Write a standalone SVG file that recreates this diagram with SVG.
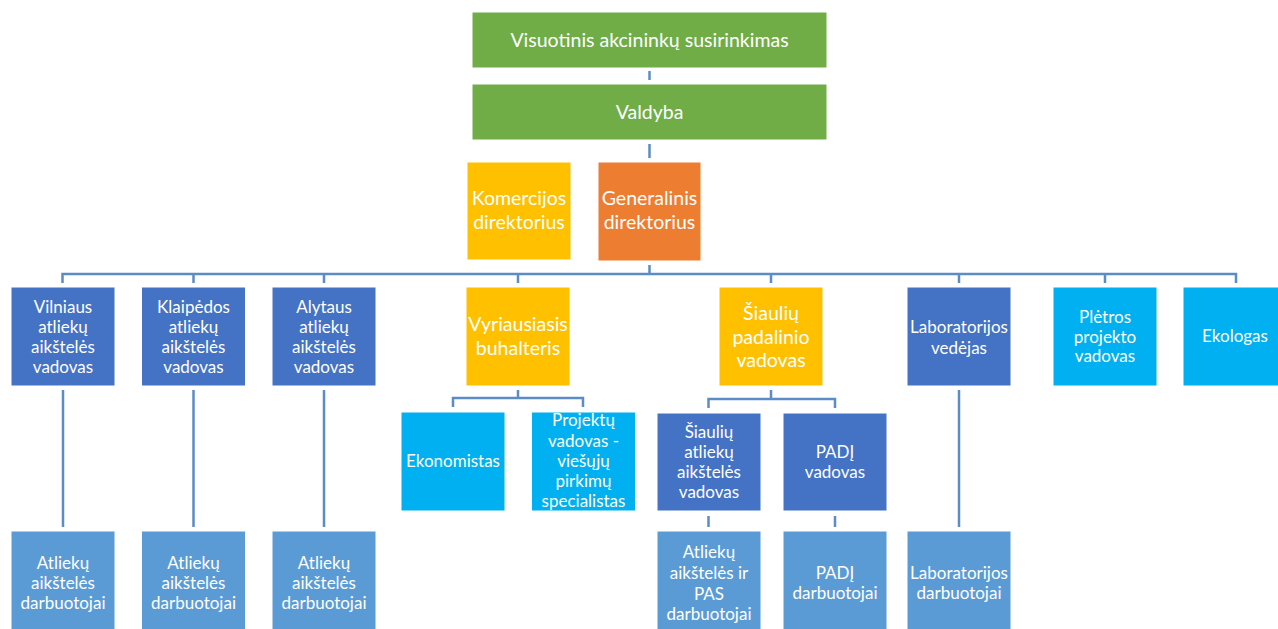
<svg xmlns="http://www.w3.org/2000/svg" width="1278" height="629" viewBox="0 0 1278 629">
<style>
.g{fill:#70AD47}.y{fill:#FFC000}.o{fill:#ED7D31}.b{fill:#4472C4}.c{fill:#00B0F0}.l{fill:#5B9BD5}
rect{stroke:#ffffff;stroke-width:1}
text{fill:#ffffff;font-family:Lato,"Liberation Sans",sans-serif;text-anchor:middle}
.t21{font-size:19.5px}.t18{font-size:17px}
#connectors path{fill:none;stroke:#5B8CC6;stroke-width:2.5}
</style>
<rect width="1278" height="629" fill="#ffffff" style="stroke:none"/>
<g id="connectors">
<path d="M649.5 71V80M649.5 144V158M649.5 265V274"/>
<path d="M62.5 283V274H1236V283M193.5 274V283M324 274V283M518 274V283M771 274V283M959 274V283M1105 274V283"/>
<path d="M63 390V527M193.5 390V527M324 390V527M959 390V527"/>
<path d="M518 390V398M453 407V398H583V407"/>
<path d="M771 390V399M708.5 408V399H835V408"/>
<path d="M708.5 516V527M835 516V527"/>
</g>
<g id="n-visuotinis"><rect class="g" x="472" y="12" width="355" height="56"/><text class="t21" x="649.5" y="46.5">Visuotinis akcininkų susirinkimas</text></g>
<g id="n-valdyba"><rect class="g" x="472" y="84" width="355" height="56"/><text class="t21" x="649.5" y="119">Valdyba</text></g>
<g id="n-komercijos"><rect class="y" x="467" y="162" width="104" height="98"/><text class="t21" x="519" y="205">Komercijos</text><text class="t21" x="519" y="229">direktorius</text></g>
<g id="n-generalinis"><rect class="o" x="598" y="162" width="103" height="99"/><text class="t21" x="649.5" y="205">Generalinis</text><text class="t21" x="649.5" y="229">direktorius</text></g>
<g id="n-vilniaus"><rect class="b" x="11" y="287" width="104" height="99"/><text class="t18" x="63" y="312.5">Vilniaus</text><text class="t18" x="63" y="332.5">atliekų</text><text class="t18" x="63" y="352.5">aikštelės</text><text class="t18" x="63" y="372.5">vadovas</text></g>
<g id="n-klaipedos"><rect class="b" x="141.5" y="287" width="104" height="99"/><text class="t18" x="193.5" y="312.5">Klaipėdos</text><text class="t18" x="193.5" y="332.5">atliekų</text><text class="t18" x="193.5" y="352.5">aikštelės</text><text class="t18" x="193.5" y="372.5">vadovas</text></g>
<g id="n-alytaus"><rect class="b" x="272" y="287" width="104" height="99"/><text class="t18" x="324" y="312.5">Alytaus</text><text class="t18" x="324" y="332.5">atliekų</text><text class="t18" x="324" y="352.5">aikštelės</text><text class="t18" x="324" y="372.5">vadovas</text></g>
<g id="n-vyriausiasis"><rect class="y" x="466" y="287" width="104" height="99"/><text class="t21" x="518" y="330.5">Vyriausiasis</text><text class="t21" x="518" y="354.5">buhalteris</text></g>
<g id="n-siauliu-padalinio"><rect class="y" x="719" y="287" width="104" height="99"/><text class="t21" x="771" y="320">Šiaulių</text><text class="t21" x="771" y="343.5">padalinio</text><text class="t21" x="771" y="367">vadovas</text></g>
<g id="n-lab-vedejas"><rect class="b" x="907" y="287" width="104" height="99"/><text class="t18" x="959" y="333">Laboratorijos</text><text class="t18" x="959" y="353.5">vedėjas</text></g>
<g id="n-pletros"><rect class="c" x="1053" y="287" width="104" height="99"/><text class="t18" x="1105" y="322.5">Plėtros</text><text class="t18" x="1105" y="342.5">projekto</text><text class="t18" x="1105" y="362">vadovas</text></g>
<g id="n-ekologas"><rect class="c" x="1183" y="287" width="104" height="99"/><text class="t18" x="1235" y="342">Ekologas</text></g>
<g id="n-ekonomistas"><rect class="c" x="401" y="412" width="104" height="99"/><text class="t18" x="453" y="467">Ekonomistas</text></g>
<g id="n-projektu"><rect class="c" x="531.5" y="412" width="104" height="99"/><text class="t18" x="583.5" y="426">Projektų</text><text class="t18" x="583.5" y="446.5">vadovas -</text><text class="t18" x="583.5" y="466.5">viešųjų</text><text class="t18" x="583.5" y="486.5">pirkimų</text><text class="t18" x="583.5" y="507">specialistas</text></g>
<g id="n-siauliu-atlieku"><rect class="b" x="657" y="413" width="104" height="98"/><text class="t18" x="709" y="437.5">Šiaulių</text><text class="t18" x="709" y="457.5">atliekų</text><text class="t18" x="709" y="477.5">aikštelės</text><text class="t18" x="709" y="497.5">vadovas</text></g>
<g id="n-padi-vadovas"><rect class="b" x="783" y="413" width="104" height="98"/><text class="t18" x="835" y="457.5">PADĮ</text><text class="t18" x="835" y="477.5">vadovas</text></g>
<g id="n-vilniaus-darb"><rect class="l" x="11" y="531" width="104" height="110"/><text class="t18" x="63" y="569">Atliekų</text><text class="t18" x="63" y="589">aikštelės</text><text class="t18" x="63" y="609">darbuotojai</text></g>
<g id="n-klaipedos-darb"><rect class="l" x="141.5" y="531" width="104" height="110"/><text class="t18" x="193.5" y="569">Atliekų</text><text class="t18" x="193.5" y="589">aikštelės</text><text class="t18" x="193.5" y="609">darbuotojai</text></g>
<g id="n-alytaus-darb"><rect class="l" x="272" y="531" width="104" height="110"/><text class="t18" x="324" y="569">Atliekų</text><text class="t18" x="324" y="589">aikštelės</text><text class="t18" x="324" y="609">darbuotojai</text></g>
<g id="n-pas-darb"><rect class="l" x="657" y="531" width="104" height="110"/><text class="t18" x="709" y="558">Atliekų</text><text class="t18" x="709" y="579">aikštelės ir</text><text class="t18" x="709" y="600">PAS</text><text class="t18" x="709" y="620">darbuotojai</text></g>
<g id="n-padi-darb"><rect class="l" x="783" y="531" width="104" height="110"/><text class="t18" x="835" y="579">PADĮ</text><text class="t18" x="835" y="599">darbuotojai</text></g>
<g id="n-lab-darb"><rect class="l" x="907" y="531" width="104" height="110"/><text class="t18" x="959" y="579">Laboratorijos</text><text class="t18" x="959" y="599">darbuotojai</text></g>
</svg>
